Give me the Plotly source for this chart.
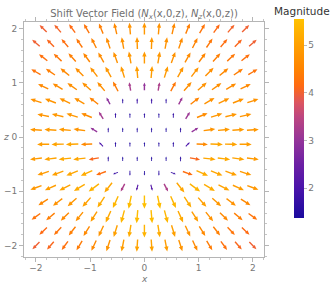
import math
import plotly.graph_objects as go
from plotly.colors import sample_colorscale

# ---------------- data ----------------
Z_ROWS = [2.0, 1.733, 1.467, 1.2, 0.933, 0.667, 0.4, 0.133,
          -0.133, -0.4, -0.667, -0.933, -1.2, -1.467, -1.733, -2.0]
X_EVEN = [-1.867, -1.6, -1.333, -1.067, -0.8, -0.533, -0.267, 0.0,
          0.267, 0.533, 0.8, 1.067, 1.333, 1.6, 1.867]
X_ODD = [-2.0, -1.733, -1.467, -1.2, -0.933, -0.667, -0.4, -0.133,
         0.133, 0.4, 0.667, 0.933, 1.2, 1.467, 1.733, 2.0]

# arrow direction (degrees) per row
ANGLES = [
    [135, 131, 126, 120, 112, 103, 95, 90, 85, 77, 68, 60, 54, 49, 45],
    [139, 135, 130, 124, 117, 109, 100, 92, 88, 80, 71, 63, 56, 50, 45, 41],
    [142, 137, 132, 126, 119, 110, 100, 90, 80, 70, 61, 54, 48, 43, 38],
    [150, 146, 141, 135, 128, 119, 107, 95, 85, 73, 61, 52, 45, 39, 34, 31],
    [154, 150, 145, 138, 130, 118, 100, 90, 80, 62, 49, 41, 35, 30, 26],
    [162, 159, 155, 150, 142, 118, 90, 90, 90, 90, 62, 38, 30, 25, 21, 18],
    [169, 166, 163, 158, 122, 90, 90, 90, 90, 90, 58, 22, 17, 14, 12],
    [176, 176, 175, 172, 148, 90, 90, 90, 90, 90, 90, 32, 8, 5, 4, 4],
    [181, 181, 182, 183, 135, 90, 90, 90, 90, 90, 45, 357, 358, 359, 359],
    [188, 187, 186, 186, 190, 90, 90, 90, 90, 90, 90, 350, 354, 353, 352, 352],
    [198, 200, 202, 204, 200, 200, 270, 270, 270, 340, 340, 336, 338, 340, 342],
    [200, 204, 207, 211, 217, 232, 242, 255, 285, 298, 308, 323, 329, 333, 336, 340],
    [213, 217, 222, 228, 236, 246, 258, 270, 282, 294, 304, 312, 318, 323, 327],
    [216, 220, 225, 231, 238, 246, 255, 265, 275, 285, 294, 302, 309, 315, 320, 324],
    [223, 227, 232, 238, 245, 253, 261, 270, 279, 287, 295, 302, 308, 313, 317],
    [225, 229, 234, 239, 245, 252, 259, 266, 274, 281, 288, 295, 301, 306, 311, 315],
]

# magnitude per row
MAGS = [
    [4.0, 4.05, 4.15, 4.3, 4.45, 4.6, 4.75, 4.85, 4.75, 4.6, 4.45, 4.3, 4.15, 4.05, 4.0],
    [4.0, 4.1, 4.2, 4.35, 4.5, 4.65, 4.75, 4.85, 4.85, 4.75, 4.65, 4.5, 4.35, 4.2, 4.1, 4.0],
    [4.25, 4.35, 4.45, 4.55, 4.65, 4.75, 4.85, 4.9, 4.85, 4.75, 4.65, 4.55, 4.45, 4.35, 4.25],
    [4.3, 4.45, 4.6, 4.7, 4.8, 4.85, 4.9, 4.95, 4.95, 4.9, 4.85, 4.8, 4.7, 4.6, 4.45, 4.3],
    [4.6, 4.65, 4.7, 4.75, 4.7, 4.4, 3.25, 3.0, 3.3, 4.35, 4.7, 4.75, 4.7, 4.65, 4.6],
    [4.75, 4.8, 4.8, 4.75, 4.5, 2.9, 1.6, 1.8, 1.8, 1.6, 3.1, 4.5, 4.75, 4.8, 4.8, 4.75],
    [4.8, 4.85, 4.85, 4.65, 3.2, 1.7, 1.5, 1.6, 1.5, 1.7, 3.1, 4.65, 4.85, 4.85, 4.8],
    [4.85, 4.9, 4.9, 4.8, 3.0, 1.6, 1.45, 1.5, 1.5, 1.45, 1.6, 3.0, 4.8, 4.9, 4.9, 4.85],
    [4.95, 5.05, 5.1, 4.6, 2.0, 1.6, 1.5, 1.45, 1.5, 1.6, 2.0, 4.6, 5.1, 5.05, 4.95],
    [4.9, 5.05, 5.15, 5.1, 4.1, 1.6, 1.45, 1.5, 1.5, 1.45, 1.6, 4.1, 5.1, 5.15, 5.05, 4.9],
    [4.9, 5.0, 5.1, 5.2, 4.2, 1.8, 1.6, 1.5, 1.6, 1.8, 4.2, 5.2, 5.1, 5.0, 4.9],
    [4.85, 4.95, 5.05, 5.2, 5.3, 5.1, 3.3, 2.2, 2.2, 3.3, 5.1, 5.3, 5.2, 5.05, 4.95, 4.85],
    [4.6, 4.75, 4.85, 5.0, 5.2, 5.35, 5.45, 5.5, 5.45, 5.35, 5.2, 5.0, 4.85, 4.75, 4.6],
    [4.3, 4.45, 4.6, 4.75, 4.95, 5.15, 5.35, 5.45, 5.45, 5.35, 5.15, 4.95, 4.75, 4.6, 4.45, 4.3],
    [4.15, 4.3, 4.45, 4.6, 4.8, 5.0, 5.2, 5.3, 5.2, 5.0, 4.8, 4.6, 4.45, 4.3, 4.15],
    [4.0, 4.1, 4.25, 4.4, 4.6, 4.8, 4.95, 5.05, 5.05, 4.95, 4.8, 4.6, 4.4, 4.25, 4.1, 4.0],
]

CB_TICKS = [2, 3, 4, 5]
M_MIN, M_MAX = 1.38, 5.55

COLORSCALE = [
    [0.0, "rgb(26,10,158)"],
    [0.149, "rgb(74,20,170)"],
    [0.269, "rgb(108,32,164)"],
    [0.388, "rgb(147,52,154)"],
    [0.508, "rgb(189,70,128)"],
    [0.58, "rgb(220,85,96)"],
    [0.664, "rgb(255,106,18)"],
    [0.748, "rgb(255,131,0)"],
    [0.868, "rgb(255,160,0)"],
    [1.0, "rgb(255,194,0)"],
]

# ---------------- build arrows ----------------
shapes = []
for k, z in enumerate(Z_ROWS):
    xs = X_EVEN if k % 2 == 0 else X_ODD
    for x, ang, m in zip(xs, ANGLES[k], MAGS[k]):
        t = (m - M_MIN) / (M_MAX - M_MIN)
        t = min(max(t, 0.0), 1.0)
        col = sample_colorscale(COLORSCALE, t)[0]
        L = 0.025 + 0.04 * m
        dx, dy = math.cos(math.radians(ang)), math.sin(math.radians(ang))
        nx, ny = -dy, dx
        h = 0.42 * L
        hw = 0.18 * L
        sw = min(0.013, hw * 0.5)
        tx, ty = x - dx * L / 2, z - dy * L / 2
        px, py = x + dx * L / 2, z + dy * L / 2
        bx, by = px - dx * h, py - dy * h
        pts = [
            (tx + nx * sw, ty + ny * sw),
            (bx + nx * sw, by + ny * sw),
            (bx + nx * hw, by + ny * hw),
            (px, py),
            (bx - nx * hw, by - ny * hw),
            (bx - nx * sw, by - ny * sw),
            (tx - nx * sw, ty - ny * sw),
        ]
        path = "M " + " L ".join(f"{a:.4f},{b:.4f}" for a, b in pts) + " Z"
        shapes.append(dict(type="path", path=path, xref="x", yref="y",
                           fillcolor=col, line=dict(width=0), layer="above"))

fig = go.Figure()
fig.add_trace(go.Scatter(
    x=[0, 0], y=[0, 0], mode="markers",
    marker=dict(size=1, opacity=0, color=[M_MIN, M_MAX], colorscale=COLORSCALE,
                cmin=M_MIN, cmax=M_MAX, showscale=True,
                colorbar=dict(
                    xref="container", yref="container",
                    x=294 / 332, xanchor="left", xpad=0, ypad=0,
                    y=(289 - 268) / 289, yanchor="bottom",
                    len=(268 - 23) / 289, lenmode="fraction",
                    thickness=10, thicknessmode="pixels",
                    outlinewidth=0,
                    tickvals=CB_TICKS, ticks="outside", ticklen=3,
                    tickcolor="#bbbbbb",
                    tickfont=dict(size=9, color="#777777", family="DejaVu Sans"),
                )),
    hoverinfo="skip", showlegend=False,
))

axis_common = dict(
    showgrid=False, zeroline=False, showline=True, linecolor="#b5b5b5",
    linewidth=1, mirror="ticks", ticks="outside", ticklen=4,
    tickcolor="#b5b5b5", tickfont=dict(size=9, color="#777777", family="DejaVu Sans"),
    dtick=1, tickformat="d", automargin=False,
    minor=dict(dtick=0.2, ticks="outside", ticklen=2, tickcolor="#c5c5c5"),
)

fig.update_layout(
    width=332, height=289,
    margin=dict(l=24, r=68, t=22, b=32, autoexpand=False),
    paper_bgcolor="white", plot_bgcolor="white",
    shapes=shapes,
    xaxis=dict(range=[-2.22, 2.205], ticklabelstandoff=-2, **axis_common),
    yaxis=dict(range=[-2.21, 2.12], **axis_common),
    title=dict(
        text="Shift Vector Field (<i>N</i><sub><i>x</i></sub>(x,0,z), <i>N</i><sub><i>z</i></sub>(x,0,z))",
        x=0.5, xref="paper", xanchor="center",
        y=1 - 13 / 289, yref="container", yanchor="middle",
        font=dict(size=10, color="#707070", family="DejaVu Sans"),
    ),
    annotations=[
        dict(text="Magnitude", x=(302 - 24) / 240, y=(257.3 - 11) / 235.6,
             xref="paper", yref="paper", showarrow=False, xanchor="center",
             yanchor="middle", font=dict(size=10.5, color="#333333", family="DejaVu Sans")),
        dict(text="<i>x</i>", x=0.5, y=(257.3 - 279) / 235.6, xref="paper", yref="paper",
             showarrow=False, xanchor="center", yanchor="middle",
             font=dict(size=9, color="#777777", family="DejaVu Sans")),
        dict(text="<i>z</i>", x=(6 - 24) / 240, y=(257.3 - 137) / 235.6, xref="paper",
             yref="paper", showarrow=False, xanchor="center", yanchor="middle",
             font=dict(size=9, color="#777777", family="DejaVu Sans")),
    ],
)

fig.write_html("out.html", config={"displayModeBar": False},
               post_script="document.body.style.margin='0';")
